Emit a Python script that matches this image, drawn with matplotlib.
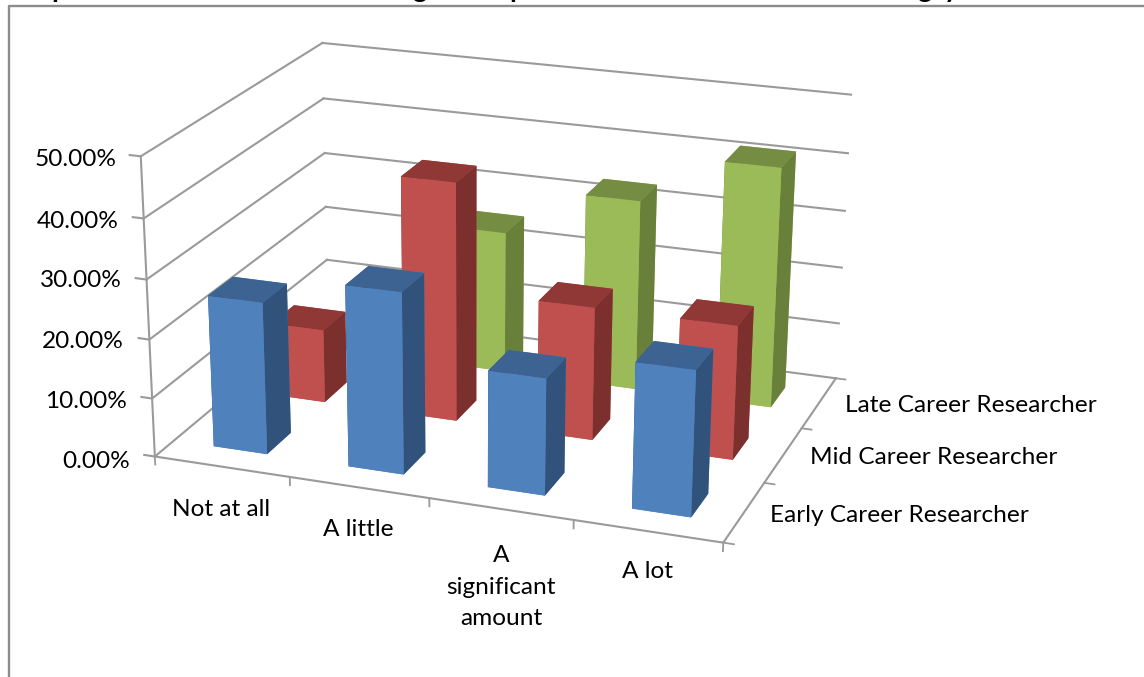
#!/usr/bin/env python
import matplotlib
matplotlib.use('Agg')
import matplotlib.pyplot as plt
import numpy as np

W, H = 1144, 677

categories = ['Not at all', 'A little', 'A\nsignificant\namount', 'A lot']
series_names = ['Early Career Researcher', 'Mid Career Researcher', 'Late Career Researcher']
early = [25.8, 30.5, 19.5, 24.1]
mid = [12.8, 41.0, 22.8, 22.8]
late = [0.0, 25.0, 33.3, 41.6]
value_ticks = [0, 10, 20, 30, 40, 50]
value_labels = ['0.00%', '10.00%', '20.00%', '30.00%', '40.00%', '50.00%']

# face colours per series: front, top, side
blues = ('#4f81bd', '#3c6391', '#31527a')
reds = ('#c0504d', '#8f3836', '#7c302e')
greens = ('#9bbb59', '#758d43', '#68803a')

grey = '#9a9a9a'

# world box corner -> pixel position, used to solve for the camera
cam_world = [(0, 0, 0), (4, 0, 0), (4, 3, 0), (0, 3, 0), (0, 0, 50), (0, 3, 50), (4, 3, 50),
             (0, 3, 10), (4, 3, 10), (0, 0, 10)]
cam_pixel = [(155, 457), (723, 543), (835, 378), (328, 312), (141, 156), (322, 43), (851, 95),
             (327, 260), (840, 323), (152, 398)]


def solve_camera(world, pixel):
    # direct linear transform, last element of the 3x4 matrix fixed at 1
    rows = []
    rhs = []
    for (x, y, z), (u, v) in zip(world, pixel):
        v = H - v
        rows.append([x, y, z, 1, 0, 0, 0, 0, -u * x, -u * y, -u * z])
        rhs.append(u)
        rows.append([0, 0, 0, 0, x, y, z, 1, -v * x, -v * y, -v * z])
        rhs.append(v)
    p = np.linalg.lstsq(np.array(rows, float), np.array(rhs, float), rcond=None)[0]
    p = np.append(p, 1.0).reshape(3, 4)
    # mplot3d clips lines outside -1..1, so scale pixels into that range
    row_x = (p[0] - W / 2 * p[2]) / (W / 2)
    row_y = (p[1] - H / 2 * p[2]) / (W / 2)
    # depth row: tz grows with distance so faces sort back to front
    return np.vstack([row_x, row_y, [0, 0, 0, -1.0], p[2]])


def px(x, y):
    return x / W, 1 - y / H


fig = plt.figure(figsize=(W / 100, H / 100), dpi=100)
plt.rcParams['font.family'] = ['Lato', 'DejaVu Sans']

# square axes, so the 3d box aspect leaves it alone
ax = fig.add_axes([0, -(W - H) / 2 / H, 1, W / H], projection='3d')
M = solve_camera(cam_world, cam_pixel)
ax.get_proj = lambda: M
ax.viewLim.set_points(np.array([[-1, -1], [1, 1]], float))
ax.set_axis_off()
ax.computed_zorder = False

# walls and gridlines
for v in value_ticks:
    ax.plot([-0.08, 0, 0], [0, 0, 3], [v, v, v], color=grey, lw=1.5, zorder=1)
    ax.plot([0, 4], [3, 3], [v, v], color=grey, lw=1.5, zorder=1)

# axis lines and tick marks
ax.plot([0, 0], [0, 0], [0, 50], color=grey, lw=1.5, zorder=1)
ax.plot([0, 4, 4], [0, 0, 3], [0, 0, 0], color=grey, lw=1.5, zorder=1)
for i in range(5):
    ax.plot([i, i], [0, 0], [0, -1.4], color=grey, lw=1.3, zorder=1)
for i in range(4):
    ax.plot([4, 4.07], [i, i], [0, 0], color=grey, lw=1.3, zorder=1)

# back row first
rows = [(2, late, greens), (1, mid, reds), (0, early, blues)]
z = 2
for row, values, (front, top, side) in rows:
    for c, value in enumerate(values):
        faces = [front, top, front, front, side, side]
        ax.bar3d(c + 0.3, row + 0.3, 0, 0.4, 0.4, value, color=faces, shade=False,
                 edgecolor='none', zorder=z)
        z += 1

for lab, (x, y) in zip(value_labels,
                       [(130, 461), (127, 401), (124, 341), (122, 281), (119, 221), (117, 160)]):
    fx, fy = px(x, y)
    fig.text(fx, fy, lab, ha='right', va='center', fontsize=17.6, color='black')

for lab, (x, y) in zip(categories, [(221, 510), (358, 530), (501, 587), (648, 571)]):
    fx, fy = px(x, y)
    fig.text(fx, fy, lab, ha='center', va='center', fontsize=17.6, color='black', linespacing=1.6)

for lab, (x, y) in zip(series_names, [(770, 515), (810, 458), (845, 406)]):
    fx, fy = px(x, y)
    fig.text(fx, fy, lab, ha='left', va='center', fontsize=17.6, color='black')

# outer frame of the chart
fig.add_artist(plt.Line2D([8.5 / W, 8.5 / W, 1], [0, 1 - 6 / H, 1 - 6 / H], color='#8c8c8c', lw=1.7))

# heading sits above the frame, only its descenders reach the page
for letter, x in zip(['p', 'g', 'p', 'g', 'y'], [51, 412, 509, 917, 944]):
    fx, fy = px(x, -3)
    fig.text(fx, fy, letter, ha='left', va='baseline', fontsize=20, fontweight='bold', color='black')

plt.savefig('out.png', dpi=100)
